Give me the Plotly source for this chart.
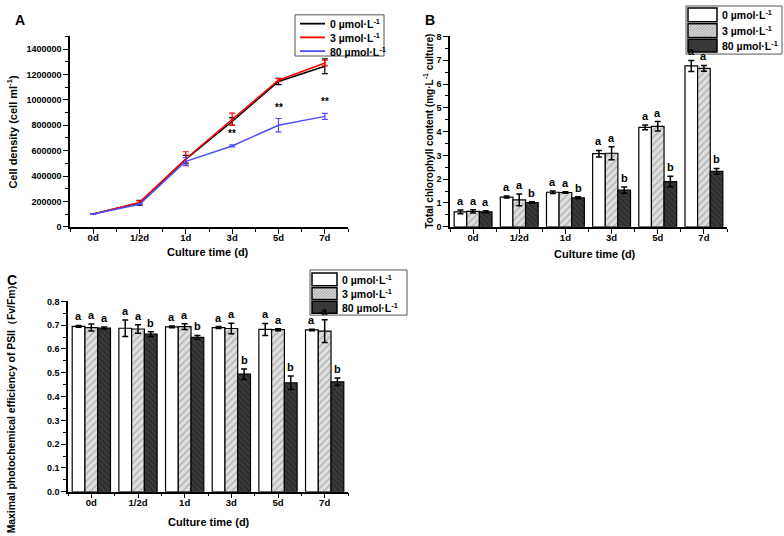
import plotly.graph_objects as go

categories = ["0d", "1/2d", "1d", "3d", "5d", "7d"]
series_names = ["0 µmol·L<sup>-1</sup>", "3 µmol·L<sup>-1</sup>", "80 µmol·L<sup>-1</sup>"]

# Panel A: cell density
cell_0 = [100000, 188000, 532000, 830000, 1145000, 1265000]
cell_0_err = [2000, 20000, 30000, 30000, 25000, 58000]
cell_3 = [100000, 192000, 536000, 847000, 1155000, 1290000]
cell_3_err = [2000, 12000, 55000, 48000, 12000, 22000]
cell_80 = [100000, 178000, 516000, 637000, 800000, 870000]
cell_80_err = [2000, 6000, 30000, 8000, 53000, 24000]
sig_marks = ["", "", "", "**", "**", "**"]

# Panel B: total chlorophyll
chl_0 = [0.63, 1.25, 1.45, 3.07, 4.18, 6.76]
chl_0_err = [0.08, 0.04, 0.05, 0.14, 0.10, 0.23]
chl_3 = [0.65, 1.13, 1.44, 3.09, 4.22, 6.66]
chl_3_err = [0.07, 0.25, 0.03, 0.27, 0.20, 0.12]
chl_80 = [0.63, 1.02, 1.22, 1.54, 1.90, 2.33]
chl_80_err = [0.04, 0.03, 0.04, 0.13, 0.22, 0.12]
chl_letters = [["a"] * 6, ["a"] * 6, ["a", "b", "b", "b", "b", "b"]]

# Panel C: Fv/Fm
fv_0 = [0.695, 0.687, 0.693, 0.690, 0.682, 0.680]
fv_0_err = [0.004, 0.035, 0.004, 0.004, 0.025, 0.003]
fv_3 = [0.690, 0.684, 0.694, 0.686, 0.681, 0.675]
fv_3_err = [0.015, 0.018, 0.012, 0.022, 0.004, 0.048]
fv_80 = [0.688, 0.662, 0.649, 0.494, 0.458, 0.462]
fv_80_err = [0.004, 0.010, 0.008, 0.022, 0.028, 0.016]
fv_letters = [["a"] * 6, ["a"] * 6, ["a", "b", "b", "b", "b", "b"]]

W, H = 784, 536
FONT = "Liberation Sans, Arial, sans-serif"
BARGAP = 0.18
xs = list(range(len(categories)))

line_colors = ["#000000", "#ff0000", "#4d4dff"]
bar_styles = [
    dict(color="#ffffff", pattern=dict(shape=""), swatch=("#ffffff", None)),
    dict(color="#d0d0d0", pattern=dict(shape="/", fgcolor="#7a7a7a", bgcolor="#dedede", size=5, solidity=0.25),
         swatch=("#dcdcdc", "#8a8a8a")),
    dict(color="#333333", pattern=dict(shape="\\", fgcolor="#555555", bgcolor="#2e2e2e", size=4, solidity=0.3),
         swatch=("#333333", "#4a4a4a")),
]

fig = go.Figure()

def px_x(p):
    return p / W

def px_y(p):
    return 1 - p / H

# ---- Panel A ----
for name, vals, errs, col in zip(series_names, [cell_0, cell_3, cell_80],
                                 [cell_0_err, cell_3_err, cell_80_err], line_colors):
    fig.add_trace(go.Scatter(
        x=xs, y=vals, mode="lines", name=name, line=dict(color=col, width=1.5),
        error_y=dict(type="data", array=errs, color=col, thickness=1.2, width=3),
        xaxis="x", yaxis="y", showlegend=False))

annotations = []
shapes = []
for i, m in enumerate(sig_marks):
    if m:
        annotations.append(dict(x=xs[i], y=cell_80[i] + cell_80_err[i], xref="x", yref="y",
                                text="<b>" + m + "</b>", showarrow=False, yanchor="bottom",
                                yshift=4, font=dict(size=10, family=FONT, color="#000")))

# ---- Panels B and C ----
def add_bars(vals_list, errs_list, letters, xa, ya):
    n = len(vals_list)
    w = (1 - BARGAP) / n
    for j, (name, vals, errs, st) in enumerate(zip(series_names, vals_list, errs_list, bar_styles)):
        fig.add_trace(go.Bar(
            x=xs, y=vals, name=name,
            marker=dict(color=st["color"], pattern=st["pattern"], line=dict(color="#000", width=1.2)),
            error_y=dict(type="data", array=errs, color="#000", thickness=1.5, width=3),
            xaxis=xa, yaxis=ya, showlegend=False))
        for i in xs:
            annotations.append(dict(x=i + (j - (n - 1) / 2) * w, y=vals[i] + errs[i],
                                    xref=xa, yref=ya, text="<b>" + letters[j][i] + "</b>",
                                    showarrow=False, yanchor="bottom", yshift=1,
                                    font=dict(size=11, family=FONT, color="#000")))

add_bars([chl_0, chl_3, chl_80], [chl_0_err, chl_3_err, chl_80_err], chl_letters, "x2", "y2")
add_bars([fv_0, fv_3, fv_80], [fv_0_err, fv_3_err, fv_80_err], fv_letters, "x3", "y3")

# ---- hand-drawn legends (layout only) ----
def pshape(**kw):
    d = dict(xref="paper", yref="paper", layer="above")
    d.update(kw)
    return d

def rect(x0, y0, x1, y1, fill, lw=1, lc="#000"):
    shapes.append(pshape(type="rect", x0=px_x(x0), x1=px_x(x1), y0=px_y(y1), y1=px_y(y0),
                         fillcolor=fill, line=dict(color=lc, width=lw)))

def seg(x0, y0, x1, y1, color, width):
    shapes.append(pshape(type="line", x0=px_x(x0), x1=px_x(x1), y0=px_y(y0), y1=px_y(y1),
                         line=dict(color=color, width=width)))

def hatch(x0, y0, x1, y1, color, spacing=3.0):
    # "/" lines: x + y = c (pixel coords, y downward), clipped to the rectangle
    c = x0 + y0 + spacing
    while c < x1 + y1:
        pts = []
        for yy in (y0, y1):
            xx = c - yy
            if x0 <= xx <= x1:
                pts.append((xx, yy))
        for xx in (x0, x1):
            yy = c - xx
            if y0 < yy < y1:
                pts.append((xx, yy))
        if len(pts) >= 2:
            (ax, ay), (bx, by) = pts[0], pts[1]
            seg(ax, ay, bx, by, color, 0.8)
        c += spacing

def text_left(x, y, text, size=10.5):
    annotations.append(dict(x=px_x(x), y=px_y(y), xref="paper", yref="paper", text=text,
                            showarrow=False, xanchor="left", yanchor="middle",
                            font=dict(size=size, family=FONT, color="#000", weight="bold")))

def line_legend(box, x0, x1, tx, rows):
    rect(*box, "#ffffff", lw=1, lc="#555555")
    for (name, col, yc) in rows:
        seg(x0, yc, x1, yc, col, 1.8)
        text_left(tx, yc, name)

def bar_legend(box, x0, x1, tx, rows):
    rect(*box, "#ffffff", lw=1, lc="#555555")
    for (name, st, (ry0, ry1)) in rows:
        bg, fg = st["swatch"]
        rect(x0, ry0, x1, ry1, bg, lw=1.5, lc="#000")
        if fg:
            hatch(x0 + 1, ry0 + 1, x1 - 1, ry1 - 1, fg)
        text_left(tx, (ry0 + ry1) / 2, name)

line_legend((295, 10, 384, 52), 300, 325, 328,
            list(zip(series_names, line_colors, [19, 33, 47])))
bar_legend((686, 1, 782, 50), 688, 717, 720,
           list(zip(series_names, bar_styles, [(3, 17), (19, 33), (35, 48)])))
bar_legend((310, 270, 407, 316), 312, 337, 340,
           list(zip(series_names, bar_styles, [(273, 286), (288, 300), (302, 314)])))

def xaxis(dom, anchor):
    return dict(domain=dom, anchor=anchor, range=[-0.5, len(categories) - 0.5],
                tickmode="array", tickvals=xs, ticktext=categories,
                showline=True, linecolor="#000", linewidth=1.5, ticks="outside",
                ticklen=5, tickwidth=1.2, tickcolor="#000", showgrid=False, zeroline=False,
                ticklabelstandoff=-4,
                tickfont=dict(size=9.5, family=FONT, color="#000", weight="bold"),
                minor=dict(tickmode="linear", tick0=-0.5, dtick=1, ticks="outside",
                           ticklen=3, tickcolor="#000", tickwidth=1, showgrid=False))

def yaxis(dom, anchor, rng, dtick, mdtick, fmt):
    return dict(domain=dom, anchor=anchor, range=rng, dtick=dtick, tick0=0,
                tickformat=fmt, showline=True, linecolor="#000", linewidth=1.5,
                ticks="outside", ticklen=5, tickwidth=1.2, tickcolor="#000",
                showgrid=False, zeroline=False,
                tickfont=dict(size=9, family=FONT, color="#000", weight="bold"),
                minor=dict(dtick=mdtick, ticks="outside", ticklen=3, tickcolor="#000",
                           tickwidth=1, showgrid=False))

dA_x = [px_x(70), px_x(348)]
dA_y = [px_y(226), px_y(32)]
dB_x = [px_x(450), px_x(727)]
dC_x = [px_x(68), px_x(348)]
dC_y = [px_y(496), px_y(302)]

def text_ann(x, y, text, size, angle=0):
    return dict(x=px_x(x), y=px_y(y), xref="paper", yref="paper", text=text,
                showarrow=False, textangle=angle, xanchor="center", yanchor="middle",
                font=dict(size=size, family=FONT, color="#000", weight="bold"))

annotations += [
    text_ann(20, 15, "A", 14),
    text_ann(430, 15, "B", 14),
    text_ann(12, 280, "C", 14),
    text_ann(12, 129, "Cell density (cell ml<sup>-1</sup>)", 11, -90),
    text_ann(428, 129, "Total chlorophyll content (mg·L<sup>-1</sup> culture)", 10, -90),
    text_ann(11, 409, "Maximal photochemical efficiency of PSII（Fv/Fm）", 10.4, -90),
    text_ann(208, 252, "Culture time (d)", 11),
    text_ann(595, 254, "Culture time (d)", 11),
    text_ann(209, 527, "Culture time (d)", 11),
]

fig.update_layout(
    width=W, height=H, margin=dict(l=0, r=0, t=0, b=0),
    paper_bgcolor="#fff", plot_bgcolor="#fff",
    barmode="group", bargap=BARGAP, bargroupgap=0,
    xaxis=xaxis(dA_x, "y"), yaxis=yaxis(dA_y, "x", [0, 1500000], 200000, 100000, "d"),
    xaxis2=xaxis(dB_x, "y2"), yaxis2=yaxis(dA_y, "x2", [0, 8], 1, 0.5, "d"),
    xaxis3=xaxis(dC_x, "y3"), yaxis3=yaxis(dC_y, "x3", [0, 0.8], 0.1, 0.05, ".1f"),
    annotations=annotations, shapes=shapes, showlegend=False,
)

fig.write_html("out.html", config={"displayModeBar": False},
               post_script="document.body.style.margin='0';document.body.style.overflow='hidden';")
